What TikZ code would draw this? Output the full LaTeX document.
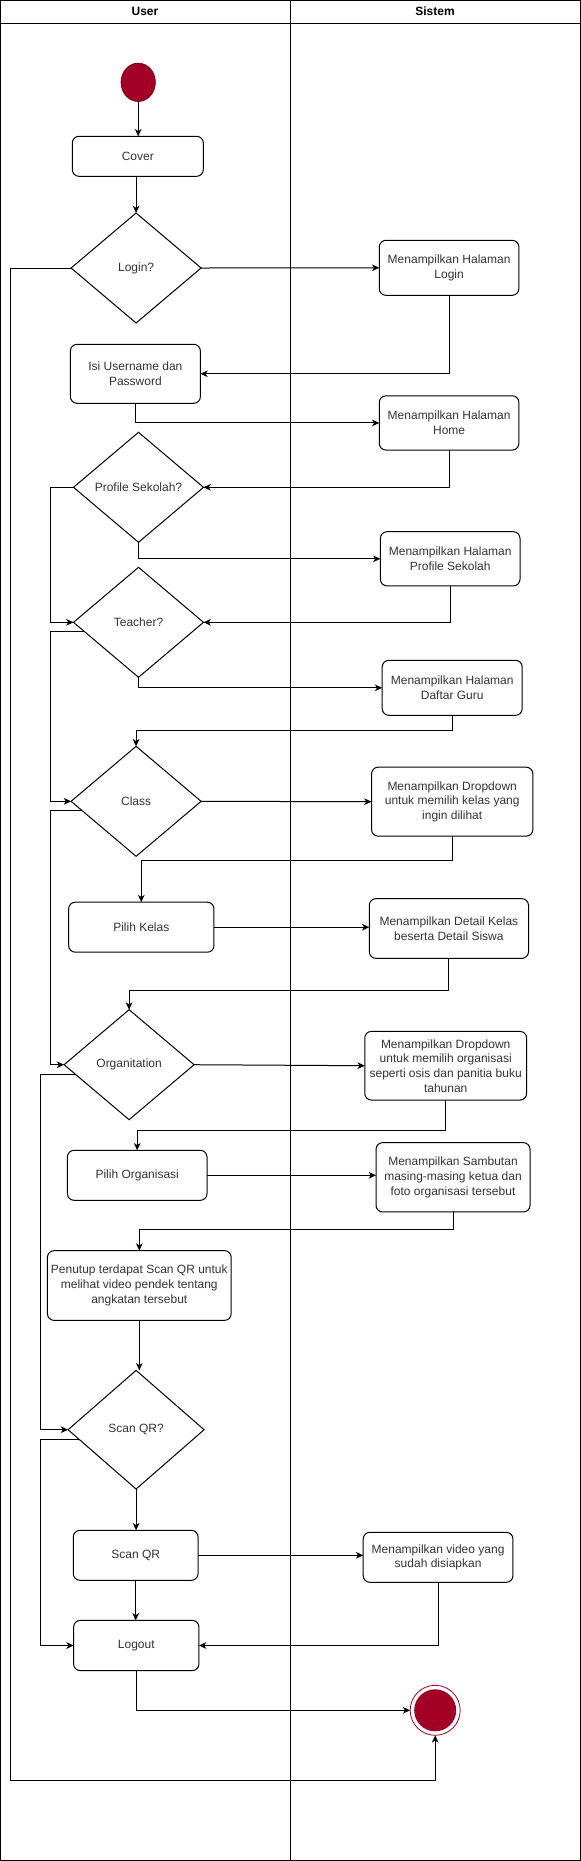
\documentclass[tikz,border=0pt]{standalone}
\usepackage{fontspec}
\setmainfont{Liberation Sans}
\usepackage{tikz}
\usetikzlibrary{arrows.meta}
\usetikzlibrary{shapes.geometric}
\definecolor{dotred}{HTML}{A20025}
\definecolor{inkgrey}{HTML}{333333}
\tikzset{every node/.style={font=\fontsize{9}{11}\selectfont, text=inkgrey, align=center, outer sep=0pt},
         act/.style={draw, rectangle, rounded corners=5pt, inner sep=0pt},
         choice/.style={draw, diamond, inner sep=0pt, minimum width=97.5pt, minimum height=82.5pt},
         flow/.style={draw, -{Stealth[length=5.5pt,width=5pt,inset=1.6pt]}},
         lane/.style={draw, line width=0.75pt},
         x=0.75pt, y=-0.75pt}

\begin{document}
\begin{tikzpicture}[line width=0.75pt]
  \useasboundingbox (0,0) rectangle (581,1861);
  % lanes
  \draw[line width=1pt] (0.5,0.5) rectangle (580.5,1860.5);
  \draw[lane] (0.5,23.3) -- (580.5,23.3);
  \draw[lane] (290,0.5) -- (290,1860.5);
  \node[font=\bfseries\fontsize{9}{11}\selectfont, text=black] (hUser) at (145,11.7) {User};
  \node[font=\bfseries\fontsize{9}{11}\selectfont, text=black] (hSistem) at (435,11.7) {Sistem};

  % user lane
  \node[ellipse, fill=dotred, draw=dotred!70!black, line width=0.5pt,
        minimum width=25.8pt, minimum height=28.8pt] (start) at (138.2,82.3) {};
  \node[act, minimum width=98.25pt, minimum height=30pt] (cover) at (137.8,156.3) {Cover};
  \node[choice] (login) at (136.1,268) {Login?};
  \node[act, minimum width=97.5pt, minimum height=44.25pt] (isi) at (135.4,373.8) {Isi Username dan\\Password};
  \node[choice] (profil) at (138.5,487.3) {Profile Sekolah?};
  \node[choice] (teacher) at (138.5,622.3) {Teacher?};
  \node[choice] (class) at (136.1,801.3) {Class};
  \node[act, minimum width=109pt, minimum height=37.5pt] (pilihkelas) at (141.3,927.2) {Pilih Kelas};
  \node[choice] (org) at (129.1,1064.7) {Organitation};
  \node[act, minimum width=104.7pt, minimum height=37.5pt] (pilihorg) at (137.2,1175.3) {Pilih Organisasi};
  \node[act, minimum width=137.8pt, minimum height=52.3pt] (penutup) at (139.3,1285.5) {Penutup terdapat Scan QR untuk\\melihat video pendek tentang\\angkatan tersebut};
  \node[choice, minimum width=102pt, minimum height=89pt] (scanq) at (136.1,1429.7) {Scan QR?};
  \node[act, minimum width=93.6pt, minimum height=37.5pt] (scan) at (135.7,1555.3) {Scan QR};
  \node[act, minimum width=94pt, minimum height=37.7pt] (logout) at (136.3,1645.5) {Logout};

  % sistem lane
  \node[act, minimum width=104.7pt, minimum height=41.25pt] (lgnbox) at (449.1,267.8) {Menampilkan Halaman\\Login};
  \node[act, minimum width=104.7pt, minimum height=40.7pt] (home) at (449.1,422.9) {Menampilkan Halaman\\Home};
  \node[act, minimum width=104.7pt, minimum height=40.7pt] (profbox) at (450.2,558.8) {Menampilkan Halaman\\Profile Sekolah};
  \node[act, minimum width=105pt, minimum height=41.25pt] (guru) at (452.2,687.8) {Menampilkan Halaman\\Daftar Guru};
  \node[act, minimum width=121pt, minimum height=51.75pt] (kelasdd) at (452.2,801.7) {Menampilkan Dropdown\\untuk memilih kelas yang\\ingin dilihat};
  \node[act, minimum width=119.4pt, minimum height=44.8pt] (detail) at (448.9,928.5) {Menampilkan Detail Kelas\\beserta Detail Siswa};
  \node[act, minimum width=121.4pt, minimum height=51.5pt] (orgdd) at (445.7,1065.7) {Menampilkan Dropdown\\untuk memilih organisasi\\seperti osis dan panitia buku\\tahunan};
  \node[act, minimum width=115.5pt, minimum height=52pt] (sambutan) at (453,1177.3) {Menampilkan Sambutan\\masing-masing ketua dan\\foto organisasi tersebut};
  \node[act, minimum width=112.3pt, minimum height=37.5pt] (video) at (438.1,1557.3) {Menampilkan video yang\\sudah disiapkan};
  \node[circle, draw=dotred, line width=0.6pt, minimum size=37.5pt] (endc) at (435.2,1710.3) {};
  \node[circle, fill=dotred, minimum size=31.5pt] (endin) at (endc) {};

  % side rails
  \coordinate (railA) at (50.4,0);
  \coordinate (railB) at (40,0);
  \coordinate (loopend) at (10.4,1780.3);

  % connectors
  \draw[flow] (start.south) -- (start.south |- cover.north);
  \draw[flow] (login.north |- cover.south) -- (login.north);
  \draw[flow] (login.east) -- (lgnbox.west);
  \draw[flow] (lgnbox.south) |- (isi.east);
  \draw[flow] (isi.south) |- (home.west);
  \draw[flow] (home.south) |- (profil.east);
  \draw[flow] (profil.west) -| (railA |- teacher.west) -- (teacher.west);
  \draw[flow] (profil.south) |- (profbox.west);
  \draw[flow] (profbox.south) |- (teacher.east);
  \draw[flow] (teacher.190) -| (railA |- class.west) -- (class.west);
  \draw[flow] (teacher.south) |- (guru.west);
  \draw[flow] (guru.south) -- ++(0,15) -| (class.north);
  \draw[flow] (class.east) -- (kelasdd.west);
  \draw[flow] (class.190) -| (railA |- org.west) -- (org.west);
  \draw[flow] (kelasdd.south) -- ++(0,24) -| (pilihkelas.north);
  \draw[flow] (pilihkelas.east) -- (pilihkelas.east -| detail.west);
  \draw[flow] (detail.south) -- ++(0,32) -| (org.north);
  \draw[flow] (org.east) -- (orgdd.west);
  \draw[flow] (org.190) -| (railB |- scanq.west) -- (scanq.west);
  \draw[flow] (orgdd.south) -- ++(0,30) -| (pilihorg.north);
  \draw[flow] (pilihorg.east) -- (pilihorg.east -| sambutan.west);
  \draw[flow] (sambutan.south) -- ++(0,18) -| (penutup.north);
  \draw[flow] (penutup.south) -- (penutup.south |- scanq.north);
  \draw[flow] (scanq.south) -- (scanq.south |- scan.north);
  \draw[flow] (scan.east) -- (scan.east -| video.west);
  \draw[flow] (video.south) |- (logout.east);
  \draw[flow] (scanq.190) -| (railB |- logout.west) -- (logout.west);
  \draw[flow] (scan.south) -- (scan.south |- logout.north);
  \draw[flow] (logout.south) |- (endc.west);
  \draw[flow] (login.west) -| (loopend) -| (endc.south);
\end{tikzpicture}
\end{document}
